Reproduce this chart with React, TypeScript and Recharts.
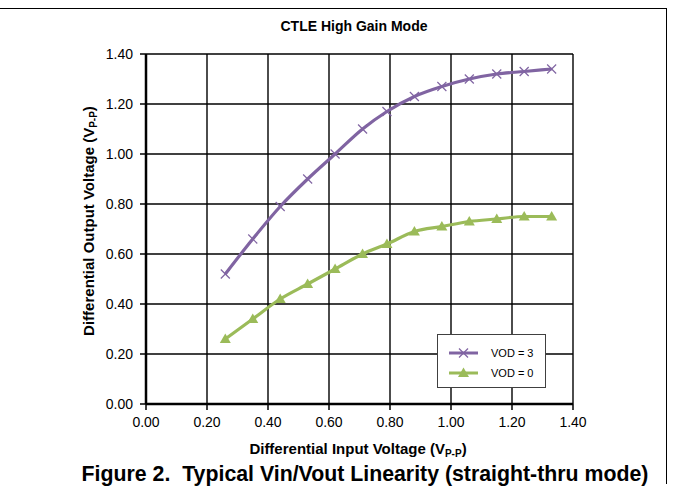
import { LineChart, Line, XAxis, YAxis, CartesianGrid } from "recharts";

const inputVoltage = [0.26, 0.35, 0.44, 0.53, 0.62, 0.71, 0.79, 0.88, 0.97, 1.06, 1.15, 1.24, 1.33];
const vod3 = [0.52, 0.66, 0.79, 0.9, 1.0, 1.1, 1.17, 1.23, 1.27, 1.3, 1.32, 1.33, 1.34];
const vod0 = [0.26, 0.34, 0.42, 0.48, 0.54, 0.6, 0.64, 0.69, 0.71, 0.73, 0.74, 0.75, 0.75];
const axisTicks = [0, 0.2, 0.4, 0.6, 0.8, 1.0, 1.2, 1.4];

const PURPLE = "#8064a2";
const GREEN = "#9bbb59";
const FONT = "'Liberation Sans', Arial, sans-serif";

const data = inputVoltage.map((x, i) => ({ x, vod3: vod3[i], vod0: vod0[i] }));

const series = [
  { key: "vod3", name: "VOD = 3", color: PURPLE, marker: "cross" },
  { key: "vod0", name: "VOD = 0", color: GREEN, marker: "triangle" },
];

function CrossDot(props: any) {
  const { cx, cy } = props;
  if (cx == null || cy == null) return null;
  const s = 4.5;
  return (
    <g stroke={PURPLE} strokeWidth={1.2}>
      <line x1={cx - s} y1={cy - s} x2={cx + s} y2={cy + s} />
      <line x1={cx - s} y1={cy + s} x2={cx + s} y2={cy - s} />
    </g>
  );
}

function TriangleDot(props: any) {
  const { cx, cy } = props;
  if (cx == null || cy == null) return null;
  return <path d={`M${cx},${cy - 5.5} L${cx + 5.5},${cy + 4} L${cx - 5.5},${cy + 4} Z`} fill={GREEN} />;
}

// legend drawn as a plain box so the chart does not reserve room for it
function LegendBox() {
  return (
    <div
      style={{
        position: "absolute",
        left: 437,
        top: 334,
        width: 109,
        height: 54,
        border: "1px solid #404040",
        background: "#fff",
        fontSize: 11,
        color: "#000",
        paddingTop: 8,
        boxSizing: "border-box",
      }}
    >
      {series.map((s) => (
        <div key={s.key} style={{ display: "flex", alignItems: "center", height: 20 }}>
          <svg width={53} height={14} style={{ flex: "none" }}>
            <line x1={11} y1={7} x2={40} y2={7} stroke={s.color} strokeWidth={3} />
            {s.marker === "cross" ? <CrossDot cx={25.5} cy={7} /> : <TriangleDot cx={25.5} cy={7} />}
          </svg>
          <span>{s.name}</span>
        </div>
      ))}
    </div>
  );
}

const fmt = (v: number) => v.toFixed(2);
const tickStyle = { fill: "#000", fontSize: 14, fontFamily: FONT };
const sub = { fontSize: 10, verticalAlign: "-3px" } as const;

export default function App() {
  return (
    <div style={{ position: "absolute", left: 0, top: 0, width: 673, height: 493, background: "#fff", fontFamily: FONT }}>
      <div style={{ position: "absolute", left: 0, top: 8, width: 667, height: 0, borderTop: "1.5px solid #000" }} />
      <div style={{ position: "absolute", left: 666, top: 8, width: 0, height: 476, borderLeft: "1.5px solid #000" }} />
      <div
        style={{ position: "absolute", left: 154, top: 17, width: 400, lineHeight: "18px", textAlign: "center", fontSize: 14, fontWeight: "bold" }}
      >
        CTLE High Gain Mode
      </div>
      <div style={{ position: "absolute", left: 0, top: 0 }}>
        <LineChart width={673} height={493} data={data} margin={{ top: 54, right: 100, bottom: 59, left: 96 }}>
          <CartesianGrid stroke="#000" strokeWidth={1.4} />
          <XAxis
            dataKey="x"
            type="number"
            domain={[0, 1.4]}
            ticks={axisTicks}
            tickFormatter={fmt}
            height={30}
            tick={tickStyle}
            axisLine={{ stroke: "#000", strokeWidth: 2.5 }}
            tickLine={{ stroke: "#000", strokeWidth: 1.5 }}
            tickSize={6}
            tickMargin={7}
            interval={0}
          />
          <YAxis
            type="number"
            domain={[0, 1.4]}
            ticks={axisTicks}
            tickFormatter={fmt}
            width={50}
            tick={tickStyle}
            axisLine={{ stroke: "#000", strokeWidth: 2.5 }}
            tickLine={{ stroke: "#000", strokeWidth: 1.5 }}
            tickSize={6}
            tickMargin={7}
            interval={0}
          />
          <Line
            dataKey="vod3"
            name="VOD = 3"
            type="monotone"
            stroke={PURPLE}
            strokeWidth={3.2}
            dot={<CrossDot />}
            activeDot={false}
            isAnimationActive={false}
          />
          <Line
            dataKey="vod0"
            name="VOD = 0"
            type="monotone"
            stroke={GREEN}
            strokeWidth={3.2}
            dot={<TriangleDot />}
            activeDot={false}
            isAnimationActive={false}
          />
        </LineChart>
      </div>
      <LegendBox />
      <div style={{ position: "absolute", left: 158, top: 439, width: 400, lineHeight: "20px", textAlign: "center", fontSize: 15, fontWeight: "bold" }}>
        Differential Input Voltage (V<span style={sub}>P-P</span>)
      </div>
      <div
        style={{
          position: "absolute",
          left: 89 - 150,
          top: 221 - 10,
          width: 300,
          height: 20,
          lineHeight: "20px",
          textAlign: "center",
          fontSize: 15,
          fontWeight: "bold",
          transform: "rotate(-90deg)",
          transformOrigin: "center",
        }}
      >
        Differential Output Voltage (V<span style={sub}>P-P</span>)
      </div>
      <div
        style={{ position: "absolute", left: 15, top: 461, width: 700, lineHeight: "26px", textAlign: "center", fontSize: 21.3, fontWeight: "bold" }}
      >
        Figure 2.&nbsp; Typical Vin/Vout Linearity (straight-thru mode)
      </div>
    </div>
  );
}
